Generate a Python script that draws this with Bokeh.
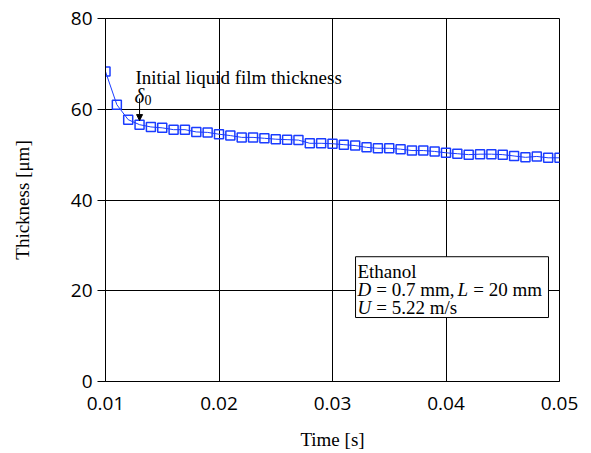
from bokeh.plotting import figure
from bokeh.models import (Range1d, FixedTicker, PrintfTickFormatter, Label,
                          BoxAnnotation, Arrow, NormalHead)
from bokeh.embed import file_html
from bokeh.resources import INLINE

# ---- data ----
time_s = [0.010, 0.011, 0.012, 0.013, 0.014, 0.015, 0.016, 0.017, 0.018, 0.019,
          0.020, 0.021, 0.022, 0.023, 0.024, 0.025, 0.026, 0.027, 0.028, 0.029,
          0.030, 0.031, 0.032, 0.033, 0.034, 0.035, 0.036, 0.037, 0.038, 0.039,
          0.040, 0.041, 0.042, 0.043, 0.044, 0.045, 0.046, 0.047, 0.048, 0.049,
          0.050]
thickness_um = [68.3, 61.0, 57.7, 56.6, 56.1, 55.9, 55.5, 55.5, 55.0, 54.9,
                54.5, 54.2, 53.8, 53.8, 53.6, 53.4, 53.3, 53.2, 52.5, 52.5,
                52.4, 52.2, 52.0, 51.6, 51.4, 51.4, 51.2, 50.9, 50.9, 50.7,
                50.4, 50.2, 50.0, 50.1, 50.1, 50.0, 49.7, 49.4, 49.6, 49.3,
                49.3]
x_ticks = [0.01, 0.02, 0.03, 0.04, 0.05]
y_ticks = [0, 20, 40, 60, 80]

SERIF = "Liberation Serif"
SANS = "Open Sans"
BLUE = "#1a3cff"
NB = "\u00a0"

p = figure(width=591, height=453, output_backend="svg", toolbar_location=None,
           x_range=Range1d(0.01, 0.05), y_range=Range1d(0, 80),
           min_border_left=105, min_border_right=32, min_border_top=18,
           min_border_bottom=72)
p.background_fill_color = "white"
p.border_fill_color = "white"
p.outline_line_color = "black"
p.outline_line_width = 1

p.xaxis.ticker = FixedTicker(ticks=x_ticks)
p.yaxis.ticker = FixedTicker(ticks=y_ticks)
p.xaxis.formatter = PrintfTickFormatter(format="%.2f")
for ax in (p.xaxis, p.yaxis):
    ax.axis_line_color = "black"
    ax.axis_line_width = 1
    ax.minor_tick_line_color = None
    ax.major_label_text_font = SANS
    ax.major_label_text_font_size = "19px"
    ax.major_label_text_color = "black"
    ax.axis_label_text_font = SERIF
    ax.axis_label_text_font_size = "19px"
    ax.axis_label_text_font_style = "normal"
    ax.axis_label_text_color = "black"
p.xaxis.major_tick_line_color = None
p.xaxis.major_label_standoff = 9
p.yaxis.major_tick_out = 8
p.yaxis.major_tick_in = 0
p.yaxis.major_tick_line_color = "black"
p.yaxis.major_label_standoff = 5
p.xaxis.axis_label = "Time [s]"
p.yaxis.axis_label = "Thickness [μm]"
p.xaxis.axis_label_standoff = 16
p.yaxis.axis_label_standoff = 35

p.grid.grid_line_color = "black"
p.grid.grid_line_width = 1
p.grid.grid_line_alpha = 1

p.line(time_s, thickness_um, line_color=BLUE, line_width=1)
p.scatter(time_s, thickness_um, marker="square", size=9, fill_color=None,
          line_color=BLUE, line_width=1.5)

# annotation: initial film thickness
p.add_layout(Label(x=0.01264, y=67.0, text="Initial liquid film thickness",
                   text_font=SERIF, text_font_size="19px", text_color="black",
                   text_baseline="alphabetic"))
p.add_layout(Label(x=0.012555, y=63.0, text="δ", text_font=SERIF,
                   text_font_style="italic", text_font_size="21px",
                   text_color="black", text_baseline="alphabetic"))
p.add_layout(Label(x=0.012555, y=62.0, x_offset=10, text="0", text_font=SERIF,
                   text_font_size="14px", text_color="black",
                   text_baseline="alphabetic"))
p.add_layout(Arrow(x_start=0.013, y_start=62.4, x_end=0.013, y_end=57.5,
                   line_color="black", line_width=1,
                   end=NormalHead(size=6, fill_color="black", line_color="black")))

# info box
p.add_layout(BoxAnnotation(left=0.03203, right=0.04903, top=27.5, bottom=14.1,
                           fill_color="white", fill_alpha=1,
                           line_color="black", line_width=1, line_alpha=1))
bx = 0.0322
fs = "19px"
def lab(y, text, off=0, italic=False):
    p.add_layout(Label(x=bx, y=y, x_offset=off, text=text, text_font=SERIF,
                       text_font_style="italic" if italic else "normal",
                       text_font_size=fs, text_color="black",
                       text_baseline="alphabetic"))
lab(24.24, "Ethanol")
lab(20.17, "D", italic=True)
lab(20.17, NB + "=" + NB + "0.7 mm,", off=14)
lab(20.17, "L", off=100, italic=True)
lab(20.17, NB + "=" + NB + "20 mm", off=111)
lab(16.2, "U", italic=True)
lab(16.2, NB + "=" + NB + "5.22 m/s", off=14)

open("out.html", "w").write(file_html(p, INLINE))
